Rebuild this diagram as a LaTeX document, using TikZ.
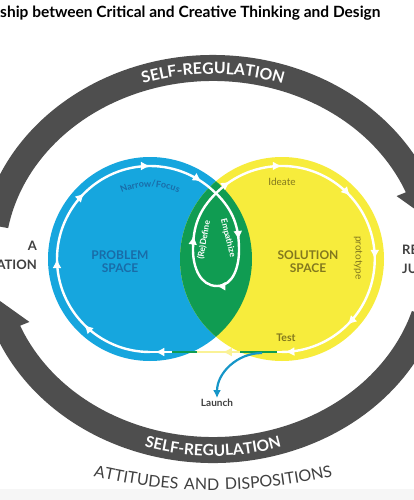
\documentclass[tikz,border=0pt]{standalone}
\usepackage{fontspec}
\setmainfont{Lato}
\newfontfamily\spacedfont[LetterSpace=12]{Lato}
\usetikzlibrary{arrows.meta, decorations.text, decorations.markings}

\definecolor{probblue}{RGB}{22,166,222}
\definecolor{solyellow}{RGB}{247,236,60}
\definecolor{overgreen}{RGB}{16,156,82}
\definecolor{bandgray}{RGB}{78,78,78}
\definecolor{probtext}{RGB}{25,108,168}
\definecolor{soltext}{RGB}{130,120,30}
\definecolor{launchblue}{RGB}{22,150,200}
\definecolor{inkgray}{RGB}{64,64,64}
\definecolor{paleline}{RGB}{250,242,150}

\tikzset{
  loopline/.style={draw=white, line width=2.4pt},
  flowat/.style={postaction={decorate, decoration={markings,
      mark=at position #1 with {\arrow{Latex[length=9pt,width=9pt,color=white]}}}}},
  paleat/.style={postaction={decorate, decoration={markings,
      mark=at position #1 with {\arrow{Latex[length=9pt,width=9pt,color=paleline]}}}}},
  spacetext/.style={font=\fontsize{12}{13}\selectfont\bfseries, align=center},
  steplabel/.style={font=\fontsize{10}{10}\selectfont, inner sep=1pt},
  sidetext/.style={font=\fontsize{13}{19}\selectfont\bfseries, text=inkgray, inner sep=0pt}
}

\begin{document}
\begin{tikzpicture}[x=1pt,y=1pt]
  \clip (0,0) rectangle (414,-500);
  \fill[white] (0,0) rectangle (414,-500);
  \fill[gray!7] (0,-489) rectangle (414,-500);

  \node[anchor=base west, inner sep=0pt, font=\fontsize{15.5}{15.5}\selectfont\bfseries] (title)
    at (0,-18) {ship between Critical and Creative Thinking and Design};

  % self-regulation cycle
  \begin{scope}[shift={(213,-259)}]
    \fill[bandgray] (170:234 and 204)
      arc[start angle=170, end angle=22, x radius=234, y radius=204]
      -- (22:246 and 216) -- (12:221 and 191) -- (22:198 and 168) -- (22:208 and 178)
      arc[start angle=22, end angle=170, x radius=208, y radius=178] -- cycle;
    \fill[bandgray] (-17:234 and 204)
      arc[start angle=-17, end angle=-158, x radius=234, y radius=204]
      -- (-158:246 and 216) -- (-168:221 and 191) -- (-158:198 and 168) -- (-158:208 and 178)
      arc[start angle=-158, end angle=-17, x radius=208, y radius=178] -- cycle;
    \path[decorate, decoration={text along path, text align=center, text color=white,
        text={|\fontsize{15.8}{15.8}\selectfont\bfseries|SELF-REGULATION}}]
      (130:215 and 185) arc[start angle=130, end angle=50, x radius=215, y radius=185];
    \path[decorate, decoration={text along path, text align=center, text color=white,
        text={|\fontsize{15.5}{15.5}\selectfont\bfseries|SELF-REGULATION}}]
      (235:226 and 197) arc[start angle=235, end angle=305, x radius=226, y radius=197];
    \path[decorate, decoration={text along path, text align=center, text color=inkgray,
        text={|\fontsize{16}{16}\spacedfont|ATTITUDES AND DISPOSITIONS}}]
      (238:350 and 231) arc[start angle=238, end angle=302, x radius=350, y radius=231];
  \end{scope}

  \node[sidetext, anchor=east, align=right] (leftlabel) at (37,-255) {A\\ATION};
  \node[sidetext, anchor=west, align=left] (rightlabel) at (402,-259) {RE\\JU};

  % the two spaces
  \coordinate (pcentre) at (150,-259);
  \coordinate (scentre) at (282,-259);
  \fill[probblue] (pcentre) circle[radius=102];
  \fill[solyellow] (scentre) circle[radius=102];
  \begin{scope}
    \clip (pcentre) circle[radius=102];
    \fill[overgreen] (scentre) circle[radius=102];
  \end{scope}

  % the loop
  \coordinate (cross) at (216,-193.2);
  \coordinate (pbottom) at (150,-352);
  \coordinate (sbottom) at (282,-352);
  \draw[loopline, flowat=0.2, flowat=0.4, flowat=0.6, flowat=0.8, flowat=0.95]
    (pbottom) arc[start angle=270, end angle=45, radius=93];
  \draw[loopline, flowat=0.24, flowat=0.5, flowat=0.78]
    (cross) to[out=-45, in=90] (239,-250) to[out=-90, in=0] (217,-286)
    to[out=180, in=-90] (193,-250) to[out=90, in=225] (cross);
  \draw[loopline, flowat=0.05, flowat=0.2, flowat=0.41, flowat=0.6, flowat=0.8, flowat=0.99]
    (cross) arc[start angle=135, end angle=-90, radius=93];
  \draw[loopline, flowat=0.96] (sbottom) -- (pbottom);
  \draw[paleline, line width=2.4pt, paleat=0.4] (240,-352) -- (197,-352);
  \draw[overgreen, line width=2.4pt] (197,-352) -- (172,-352);
  \draw[overgreen, line width=2.4pt] (277,-352) -- (240,-352);

  \node[spacetext, text=probtext] (problem) at (120,-262) {PROBLEM\\SPACE};
  \node[spacetext, text=soltext] (solution) at (308,-262) {SOLUTION\\SPACE};

  \path[decorate, decoration={text along path, text align=center, text color=probtext,
      text={|\fontsize{9}{9}\selectfont\bfseries|Narrow/Focus}}]
    (pcentre) ++(122:72) arc[start angle=122, end angle=58, radius=72];

  \node[steplabel, text=soltext] (ideate) at (282,-182) {Ideate};
  \node[steplabel, text=soltext, rotate=-90] (prototype) at (358,-258) {prototype};
  \node[steplabel, text=soltext, font=\fontsize{10.5}{10.5}\selectfont\bfseries] (test) at (286,-338) {Test};
  \node[steplabel, text=white, font=\fontsize{8.5}{8.5}\selectfont\bfseries, rotate=-76] (empathize) at (228,-238) {Empathize};
  \node[steplabel, text=white, font=\fontsize{8.5}{8.5}\selectfont\bfseries, rotate=80] (redefine) at (204,-240) {(Re)Define};

  % way out
  \node[steplabel, text=inkgray, font=\fontsize{10}{10}\selectfont\bfseries] (launch) at (217,-403) {Launch};
  \coordinate (launchfrom) at (262,-353);
  \draw[launchblue, line width=2.2pt, -{Latex[length=8pt,width=8pt]}]
    (launchfrom) to[out=180, in=90] (launch.north);
\end{tikzpicture}
\end{document}
